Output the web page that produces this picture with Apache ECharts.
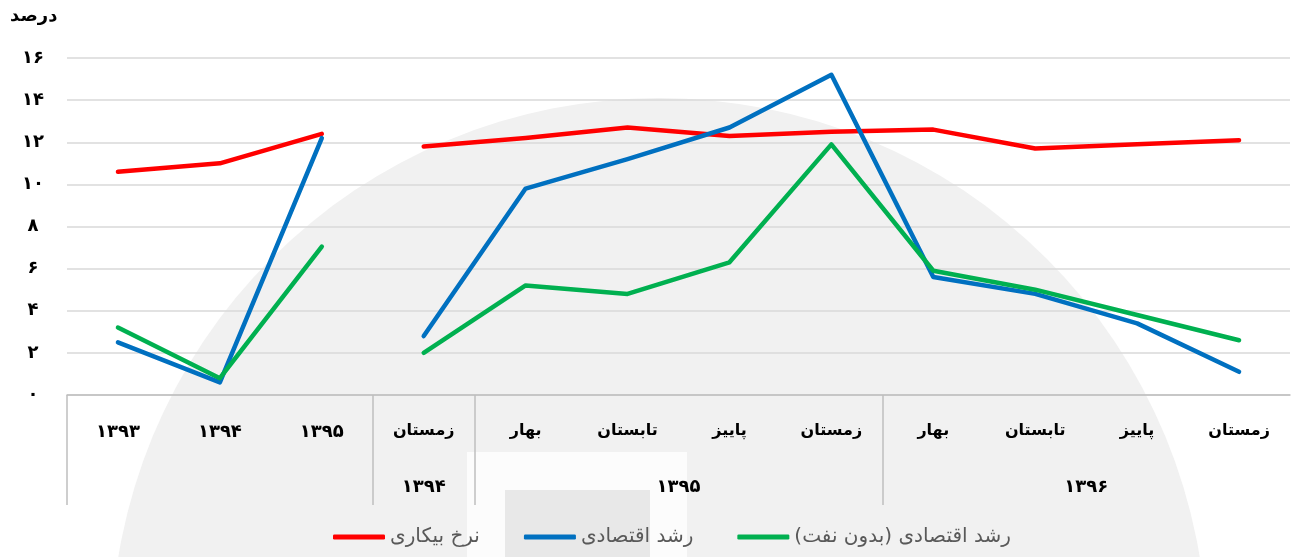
<!DOCTYPE html>
<html>
<head>
<meta charset="utf-8">
<script src="https://cdn.jsdelivr.net/npm/echarts@6/dist/echarts.min.js"></script>
<style>
html,body{margin:0;padding:0;background:#fff;}
#chart{width:1292px;height:557px;direction:rtl;}
</style>
</head>
<body>
<div id="chart" dir="rtl"></div>
<script>
// ---- data ----
const categories = ['۱۳۹۳','۱۳۹۴','۱۳۹۵','زمستان','بهار','تابستان','پاییز','زمستان','بهار','تابستان','پاییز','زمستان'];
const groupLabels = ['۱۳۹۴','۱۳۹۵','۱۳۹۶'];
const groupCenters = [3.5, 6, 10];
const groupSeparators = [0, 3, 4, 8];
const yTickLabels = ['۰','۲','۴','۶','۸','۱۰','۱۲','۱۴','۱۶'];
const seriesNames = ['نرخ بیکاری','رشد اقتصادی','رشد اقتصادی (بدون نفت)'];
const unemployment = [10.6, 11.0, 12.4, 11.8, 12.2, 12.7, 12.3, 12.5, 12.6, 11.7, 11.9, 12.1];
const growth       = [2.5, 0.6, 12.2, 2.8, 9.8, 11.2, 12.7, 15.2, 5.6, 4.8, 3.4, 1.1];
const growthNonOil = [3.2, 0.8, 7.05, 2.0, 5.2, 4.8, 6.3, 11.9, 5.9, 5.0, 3.8, 2.6];
const annualCount = 3;
const colors = ['#ff0000', '#0070c0', '#00b050'];

const FONT = 'DejaVu Sans';
function part(arr, annual) {
  return arr.map((v, i) => (annual ? (i < annualCount ? v : null) : (i >= annualCount ? v : null)));
}
const values = [unemployment, growth, growthNonOil];
const series = [];
values.forEach((arr, k) => {
  [true, false].forEach(annual => {
    series.push({
      name: seriesNames[k],
      type: 'line',
      data: part(arr, annual),
      symbol: 'none',
      connectNulls: false,
      z: 3 + k,
      lineStyle: { color: colors[k], width: 4.5, cap: 'round', join: 'round' },
      itemStyle: { color: colors[k] },
      animation: false
    });
  });
});

const catData = categories.map((c, i) => ({
  value: c,
  textStyle: { fontSize: i < annualCount ? 18 : 16 }
}));

const chart = echarts.init(document.getElementById('chart'), null, { renderer: 'canvas' });
chart.setOption({
  animation: false,
  backgroundColor: '#ffffff',
  title: {
    text: 'درصد', left: 5, top: 2,
    textStyle: { fontFamily: FONT, fontSize: 18, fontWeight: 'bold', color: '#000' }
  },
  graphic: [
    { type: 'circle', shape: { cx: 659, cy: 646, r: 548 }, style: { fill: '#f1f1f1' }, z: -10, silent: true },
    { type: 'rect', shape: { x: 467, y: 452, width: 220, height: 120 }, style: { fill: '#fcfcfc' }, z: -9, silent: true },
    { type: 'rect', shape: { x: 505, y: 490, width: 145, height: 80 }, style: { fill: '#e8e8e8' }, z: -8, silent: true }
  ],
  grid: { left: 67, right: 2, top: 58, bottom: 162, containLabel: false },
  legend: {
    data: seriesNames.map((n, k) => ({ name: n, itemStyle: { color: colors[k] } })),
    left: 328, bottom: 5,
    icon: 'roundRect',
    itemWidth: 52, itemHeight: 5, itemGap: 44,
    textStyle: { fontFamily: FONT, fontSize: 20, color: '#595959' }
  },
  xAxis: [
    {
      type: 'category', data: catData, boundaryGap: true,
      axisLine: { lineStyle: { color: '#bfbfbf', width: 1.5 } },
      axisTick: { show: false },
      axisLabel: { fontFamily: FONT, fontSize: 16, fontWeight: 'bold', color: '#000', margin: 28, interval: 0 },
      splitLine: { show: false }
    },
    {
      type: 'value', min: 0, max: 12, position: 'bottom',
      axisLine: { show: false },
      axisTick: { show: true, customValues: groupSeparators, length: 110, lineStyle: { color: '#bfbfbf', width: 1.5 } },
      axisLabel: {
        customValues: groupCenters,
        formatter: v => groupLabels[groupCenters.indexOf(v)],
        fontFamily: FONT, fontSize: 18, fontWeight: 'bold', color: '#000', margin: 83
      },
      splitLine: { show: false }
    }
  ],
  yAxis: {
    type: 'value', min: 0, max: 16, interval: 2,
    axisLine: { show: false },
    axisTick: { show: false },
    axisLabel: {
      formatter: v => yTickLabels[Math.round(v / 2)],
      fontFamily: FONT, fontSize: 18, fontWeight: 'bold', color: '#000', margin: 34, align: 'center'
    },
    splitLine: { lineStyle: { color: '#d9d9d9', width: 1.5 } }
  },
  series: series
});
</script>
</body>
</html>
